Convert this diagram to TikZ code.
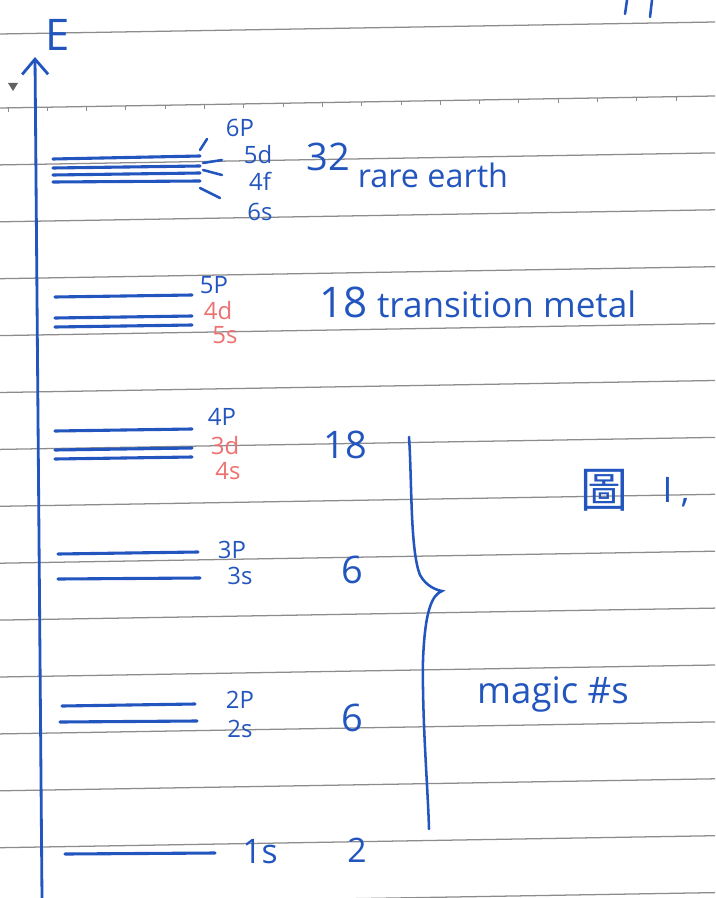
\documentclass[tikz,border=0pt]{standalone}
\usepackage{fontspec}
\setmainfont{Open Sans}
\newfontfamily\cjkfont{Noto Sans CJK TC}
\usetikzlibrary{arrows.meta}

\definecolor{ink}{RGB}{35,85,190}
\definecolor{redink}{RGB}{238,112,112}
\definecolor{rulegray}{RGB}{140,140,140}

\begin{document}
\begin{tikzpicture}[
    x=0.025cm, y=-0.025cm,
    every node/.style={text=ink, inner sep=1pt},
    level/.style={draw=ink, line width=2.2pt, line cap=round},
    pen/.style={draw=ink, line width=1.8pt, line cap=round},
    orb/.style={font=\fontsize{17}{18}\selectfont, inner sep=0pt},
    orbred/.style={orb, text=redink},
    count/.style={font=\fontsize{27}{30}\selectfont},
    note/.style={font=\fontsize{23}{26}\selectfont},
    ruled/.style={draw=rulegray, line width=0.9pt}
]

\useasboundingbox (0,0) rectangle (715,898);
\fill[white] (0,0) rectangle (715,898);

% notebook page: rules, ticks, marker
\draw[ruled] (0,34) -- (715,22);
\foreach \i in {0,...,14}
    \draw[ruled] (0,{108+56.9*\i}) -- (715,{96+56.9*\i});
\foreach \i in {0,...,17}
    \draw[rulegray, line width=0.7pt] ({8+39.3*\i},{108-12*(8+39.3*\i)/715}) -- ++(0,4);
\fill[rulegray!70!black] (8,83) -- (18,83) -- (13,91) -- cycle;
\draw[pen] (627,0) -- (625,14);
\draw[pen] (652,0) -- (650,17);

% energy axis
\coordinate (axbot) at (42,898);
\coordinate (axtop) at (35,57);
\draw[pen, line width=2pt, -{Straight Barb[length=3.8mm, width=6.5mm]}] (axbot) -- (axtop);
\node[font=\fontsize{31}{33}\selectfont] (elabel) at (58,35) {E};

% n=6 shell: 6s 4f 5d 6p
\draw[level] (53,159) -- (200,156);
\draw[level] (53,168) -- (200,166);
\draw[level] (53,175) -- (200,173);
\draw[level] (53,182) -- (200,181);
\draw[pen] (200,150) -- (207,139);
\draw[pen] (203,163) -- (222,160);
\draw[pen] (203,170) -- (222,175);
\draw[pen] (200,188) -- (220,198);
\node[orb] (o6p) at (240,128) {6P};
\node[orb] (o5d) at (258,155) {5d};
\node[orb] (o4f) at (260,181) {4f};
\node[orb] (o6s) at (260,212) {6s};
\node[count] (c32) at (328,157) {32};
\node[note] (rare) at (433,175) {rare earth};

% n=5 shell: 5s 4d 5p
\draw[level] (55,297) -- (192,295);
\draw[level] (55,318) -- (192,316);
\draw[level] (55,327) -- (192,325);
\node[orb] (o5p) at (214,285) {5P};
\node[orbred] (o4d) at (218,311) {4d};
\node[orbred] (o5s) at (225,335) {5s};
\node[note, font=\fontsize{25}{28}\selectfont] (trans) at (478,302)
    {{\fontsize{30}{32}\selectfont 18} transition metal};

% n=4 shell: 4s 3d 4p
\draw[level] (55,431) -- (192,429);
\draw[level] (55,450) -- (192,448);
\draw[level] (55,459) -- (192,457);
\node[orb] (o4p) at (222,417) {4P};
\node[orbred] (o3d) at (225,446) {3d};
\node[orbred] (o4s) at (228,471) {4s};
\node[count] (c18) at (345,445) {18};

% n=3 shell
\draw[level] (58,554) -- (198,552);
\draw[level] (58,579) -- (200,578);
\node[orb] (o3p) at (232,550) {3P};
\node[orb] (o3s) at (240,576) {3s};
\node[count] (c6a) at (352,570) {6};

% n=2 shell
\draw[level] (62,706) -- (195,704);
\draw[level] (60,722) -- (197,721);
\node[orb] (o2p) at (240,700) {2P};
\node[orb] (o2s) at (240,729) {2s};
\node[count] (c6b) at (352,718) {6};

% n=1 shell
\draw[level] (65,854) -- (215,853);
\node[count, font=\fontsize{24}{26}\selectfont] (o1s) at (260,852) {1s};
\node[count, font=\fontsize{24}{26}\selectfont] (c2) at (357,850) {2};

% brace over the magic numbers
\draw[pen] (409,437) .. controls (412,480) and (410,550) .. (420,575)
    .. controls (426,586) and (436,590) .. (442,591)
    .. controls (432,595) and (425,610) .. (423,660)
    .. controls (422,720) and (428,790) .. (429,829);
\node[note, font=\fontsize{26}{28}\selectfont] (magic) at (553,694) {magic \#s};
\node[font=\fontsize{34}{36}\selectfont\cjkfont] (fig) at (604,490) {圖};
\node[count, font=\fontsize{25}{28}\selectfont] (figno) at (676,492) {I\hspace{6pt},};

\end{tikzpicture}
\end{document}
